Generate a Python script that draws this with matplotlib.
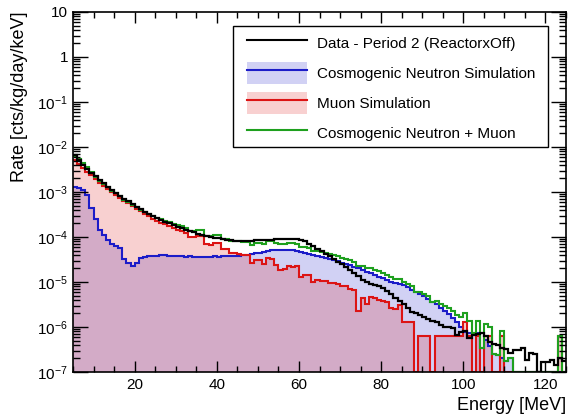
import numpy as np
import matplotlib
matplotlib.use("Agg")
import matplotlib.pyplot as plt
from matplotlib.ticker import FixedLocator, FuncFormatter, NullFormatter
from matplotlib.patches import Patch, Rectangle
from matplotlib.lines import Line2D

plt.rcParams['font.family'] = ['Liberation Sans', 'DejaVu Sans']
plt.rcParams['mathtext.default'] = 'regular'

# 1 MeV bins from 5 to 125 MeV
edges = np.arange(5, 126, 1)
xticks = [20, 40, 60, 80, 100, 120]
xminor = [5, 10, 15, 25, 30, 35, 45, 50, 55, 65, 70, 75, 85, 90, 95, 105, 110, 115, 125]
ydecades = [-7, -6, -5, -4, -3, -2, -1, 0, 1]

# log10 of rate per bin, None = empty bin
data_log = [
    -2.18, -2.30, -2.40, -2.49, -2.57, -2.65, -2.73, -2.80, -2.88, -2.95,
    -3.02, -3.08, -3.15, -3.21, -3.27, -3.33, -3.38, -3.44, -3.49, -3.54,
    -3.58, -3.62, -3.66, -3.70, -3.73, -3.77, -3.80, -3.84, -3.87, -3.90,
    -3.93, -3.96, -3.98, -4.00, -4.02, -4.03, -4.05, -4.06, -4.07, -4.08,
    -4.08, -4.08, -4.08, -4.08, -4.07, -4.07, -4.07, -4.06, -4.06, -4.05,
    -4.05, -4.05, -4.04, -4.04, -4.05, -4.07, -4.10, -4.15, -4.20, -4.26,
    -4.32, -4.37, -4.43, -4.49, -4.55, -4.61, -4.67, -4.74, -4.80, -4.87,
    -4.95, -5.00, -5.04, -5.07, -5.10, -5.14, -5.20, -5.27, -5.35, -5.42,
    -5.50, -5.58, -5.66, -5.70, -5.74, -5.78, -5.82, -5.86, -5.90, -5.96,
    -6.00, -6.01, -6.03, -6.18, -6.12, -6.10, -6.25, -6.18, -6.15, -6.13,
    -6.20, -6.33, -6.38, -6.40, -6.47, -6.50, -6.58, -6.52, -6.52, -6.47,
    -6.73, -6.58, -6.60, None, -6.78, -6.78, -6.73, -6.85, -6.70, -6.75,
]

neutron_log = [
    -2.89, -2.92, -2.96, -3.07, -3.36, -3.60, -3.84, -3.96, -4.07, -4.16,
    -4.20, -4.25, -4.50, -4.58, -4.64, -4.57, -4.47, -4.44, -4.43, -4.43,
    -4.42, -4.41, -4.41, -4.42, -4.42, -4.42, -4.43, -4.44, -4.43, -4.44,
    -4.45, -4.44, -4.45, -4.44, -4.43, -4.44, -4.43, -4.43, -4.42, -4.43,
    -4.42, -4.41, -4.40, -4.38, -4.36, -4.35, -4.34, -4.32, -4.30, -4.30,
    -4.29, -4.29, -4.29, -4.30, -4.31, -4.33, -4.35, -4.38, -4.40, -4.42,
    -4.45, -4.47, -4.49, -4.52, -4.54, -4.57, -4.60, -4.63, -4.66, -4.70,
    -4.73, -4.77, -4.80, -4.84, -4.88, -4.92, -4.96, -5.00, -5.03, -5.05,
    -5.07, -5.12, -5.17, -5.22, -5.27, -5.32, -5.38, -5.44, -5.50, -5.57,
    -5.64, -5.71, -5.80, -5.90, -6.00, -6.12, -6.13, -6.13, -6.13, -6.47,
    -6.29, -6.43, -6.60, -6.62, -6.70, -6.75, -6.70, None, None, None,
    None, None, None, None, None, None, None, None, None, None,
]

muon_log = [
    -2.29, -2.38, -2.47, -2.55, -2.63, -2.71, -2.79, -2.86, -2.93, -3.00,
    -3.06, -3.13, -3.19, -3.25, -3.31, -3.37, -3.43, -3.48, -3.54, -3.59,
    -3.64, -3.68, -3.72, -3.76, -3.80, -3.84, -3.87, -3.91, -4.00, -4.01,
    -3.98, -3.97, -4.16, -4.17, -4.13, -4.14, -4.26, -4.27, -4.35, -4.36,
    -4.38, -4.40, -4.41, -4.58, -4.51, -4.52, -4.60, -4.47, -4.48, -4.62,
    -4.73, -4.72, -4.64, -4.66, -4.65, -4.89, -4.84, -4.85, -5.00, -4.96,
    -4.98, -4.97, -5.02, -5.03, -5.05, -5.10, -5.10, -5.16, -5.18, -5.65,
    -5.35, -5.50, -5.33, -5.35, -5.40, -5.42, -5.44, -5.58, -5.60, -5.52,
    -5.90, -5.90, -5.90, None, -6.20, -6.20, -6.20, None, -6.20, -6.20,
    -6.20, -6.20, -6.20, -6.20, -6.20, -5.90, -6.20, None, -6.20, None,
    -6.20, -6.20, None, None, -6.20, None, None, None, None, None,
    None, None, None, None, None, None, None, None, -6.20, None,
]

labels = ["Data - Period 2 (ReactorxOff)", "Cosmogenic Neutron Simulation",
          "Muon Simulation", "Cosmogenic Neutron + Muon"]

YMIN, YMAX = 1e-7, 10


def to_rate(logs):
    return np.array([0.0 if v is None else 10.0 ** v for v in logs])


data = to_rate(data_log)
neutron = to_rate(neutron_log)
muon = to_rate(muon_log)
total = neutron + muon

blue = '#1c1cc8'
red = '#dc1414'
green = '#1ea01e'


def floor(v):
    return np.where(v > 0, v, YMIN)


fig = plt.figure(figsize=(5.68, 4.16), dpi=100)
ax = fig.add_axes([0.1285, 0.1058, 0.8680, 0.8654])
ax.set_yscale('log')

ax.stairs(floor(neutron), edges, baseline=YMIN, fill=True, color=blue, alpha=0.2, lw=0)
ax.stairs(floor(muon), edges, baseline=YMIN, fill=True, color=red, alpha=0.2, lw=0)
ax.stairs(floor(neutron), edges, baseline=None, color=blue, lw=1.5)
ax.stairs(floor(muon), edges, baseline=None, color=red, lw=1.5)
ax.stairs(floor(total), edges, baseline=None, color=green, lw=1.5)
ax.stairs(floor(data), edges, baseline=None, color='black', lw=1.6)

ax.set_xlim(edges[0], edges[-1])
ax.set_ylim(YMIN, YMAX)

ax.xaxis.set_major_locator(FixedLocator(xticks))
ax.xaxis.set_minor_locator(FixedLocator(xminor))
ax.yaxis.set_major_locator(FixedLocator([10.0 ** e for e in ydecades]))
ax.yaxis.set_minor_locator(FixedLocator([m * 10.0 ** e for e in ydecades[:-1]
                                         for m in range(2, 10)]))
ax.yaxis.set_minor_formatter(NullFormatter())


def ylab(v, pos):
    e = int(round(np.log10(v)))
    if e == 0:
        return '1'
    if e == 1:
        return '10'
    return r'$10^{%d}$' % e


ax.yaxis.set_major_formatter(FuncFormatter(ylab))

ax.tick_params(axis='both', which='both', direction='in', top=True, right=True,
               labelsize=11, width=1)
ax.tick_params(axis='x', which='major', length=8, pad=4)
ax.tick_params(axis='x', which='minor', length=4)
ax.tick_params(axis='y', which='major', length=10.5, pad=3.5)
ax.tick_params(axis='y', which='minor', length=5.3)
for s in ax.spines.values():
    s.set_linewidth(1.2)

ax.set_xlabel('Energy [MeV]', fontsize=13, loc='right', labelpad=4)
ax.set_ylabel('Rate [cts/kg/day/keV]', fontsize=13, loc='top', labelpad=7)

# legend box drawn separately so it can match the ROOT TLegend size
box = Rectangle((0.3245, 0.625), 0.639, 0.336, transform=ax.transAxes,
                facecolor='white', edgecolor='black', lw=1.0, zorder=5)
ax.add_patch(box)

handles = [
    Line2D([], [], color='black', lw=1.5),
    (Patch(facecolor=blue, alpha=0.2, lw=0), Line2D([], [], color=blue, lw=1.5)),
    (Patch(facecolor=red, alpha=0.2, lw=0), Line2D([], [], color=red, lw=1.5)),
    Line2D([], [], color=green, lw=1.5),
]
leg = ax.legend(handles, labels, loc='upper left', bbox_to_anchor=(0.353, 0.945),
                fontsize=11, frameon=False, handlelength=3.9, handleheight=1.9,
                handletextpad=0.7, labelspacing=0.48, borderpad=0, borderaxespad=0)
leg.set_zorder(6)

fig.savefig('out.png', dpi=100)
